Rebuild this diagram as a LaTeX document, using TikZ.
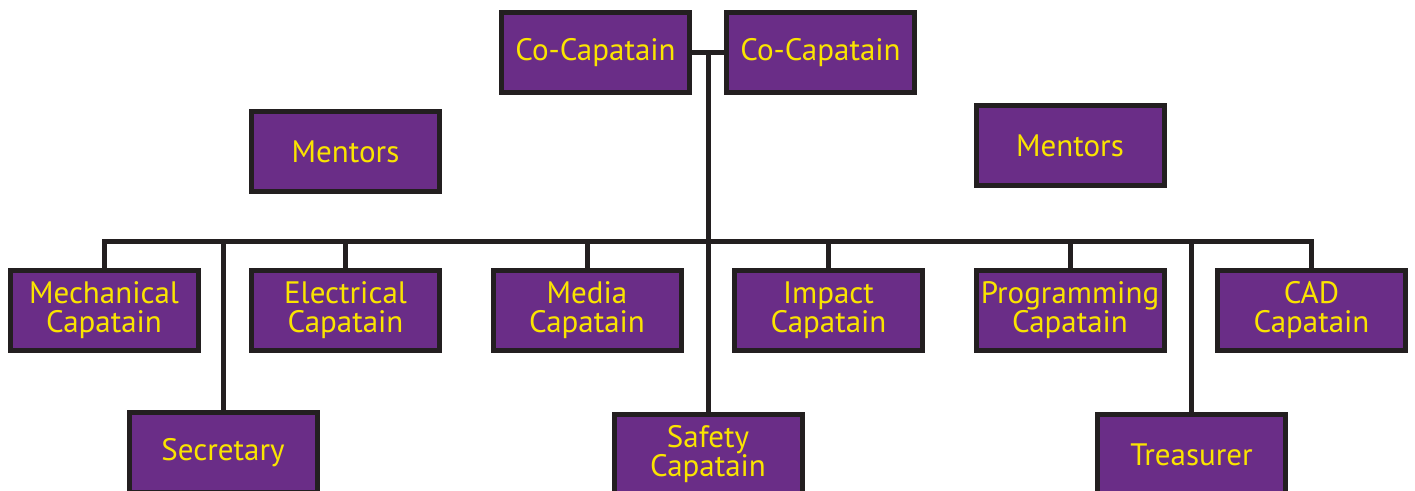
\documentclass[tikz,border=0pt]{standalone}
\usepackage{fontspec}
\setmainfont{PT Sans}
\definecolor{teampurple}{RGB}{106,45,135}
\definecolor{teamyellow}{RGB}{250,228,0}
\definecolor{linedark}{RGB}{35,31,32}
\tikzset{
    rolebox/.style={draw=linedark, line width=2.5pt, fill=teampurple,
        text=teamyellow, minimum width=94pt, minimum height=40pt,
        inner sep=0pt, align=center, font=\fontsize{15.5}{14.5}\selectfont},
    link/.style={draw=linedark, line width=2.5pt}
}
\begin{document}
\begin{tikzpicture}[x=0.5pt, y=-0.5pt]
    \useasboundingbox (0,0) rectangle (1415,491);

    % Capitanes
    \node[rolebox] (cocapL) at (595.5,52.5) {Co-Capatain};
    \node[rolebox] (cocapR) at (820.5,52.5) {Co-Capatain};

    % Mentores
    \node[rolebox] (mentorsL) at (345.5,151.5) {Mentors};
    \node[rolebox] (mentorsR) at (1070,145.5) {Mentors};

    % Fila de capitanes
    \foreach \name/\x/\label in {mech/104/Mechanical, elec/345.5/Electrical,
        media/587/Media, impact/828.5/Impact, prog/1070/Programming, cad/1311.5/CAD} {
        \node[rolebox] (\name) at (\x,310.5) {\label\\Capatain};
    }

    % Fila inferior
    \node[rolebox] (secretary) at (223,452.5) {Secretary};
    \node[rolebox] (safety) at (708,454.5) {Safety\\Capatain};
    \node[rolebox] (treasurer) at (1191.5,454.5) {Treasurer};

    % Conexiones
    \coordinate (top) at (708,52.5);
    \coordinate (bus) at (708,242);
    \draw[link] (cocapL.east) -- (cocapR.west);
    \draw[link] (top) -- (safety.north);
    \draw[link] (mech.north) |- (bus) -| (cad.north);
    \foreach \name in {elec, media, impact, prog, secretary, treasurer} {
        \draw[link] (\name.north) -- (\name.north |- bus);
    }
\end{tikzpicture}
\end{document}
